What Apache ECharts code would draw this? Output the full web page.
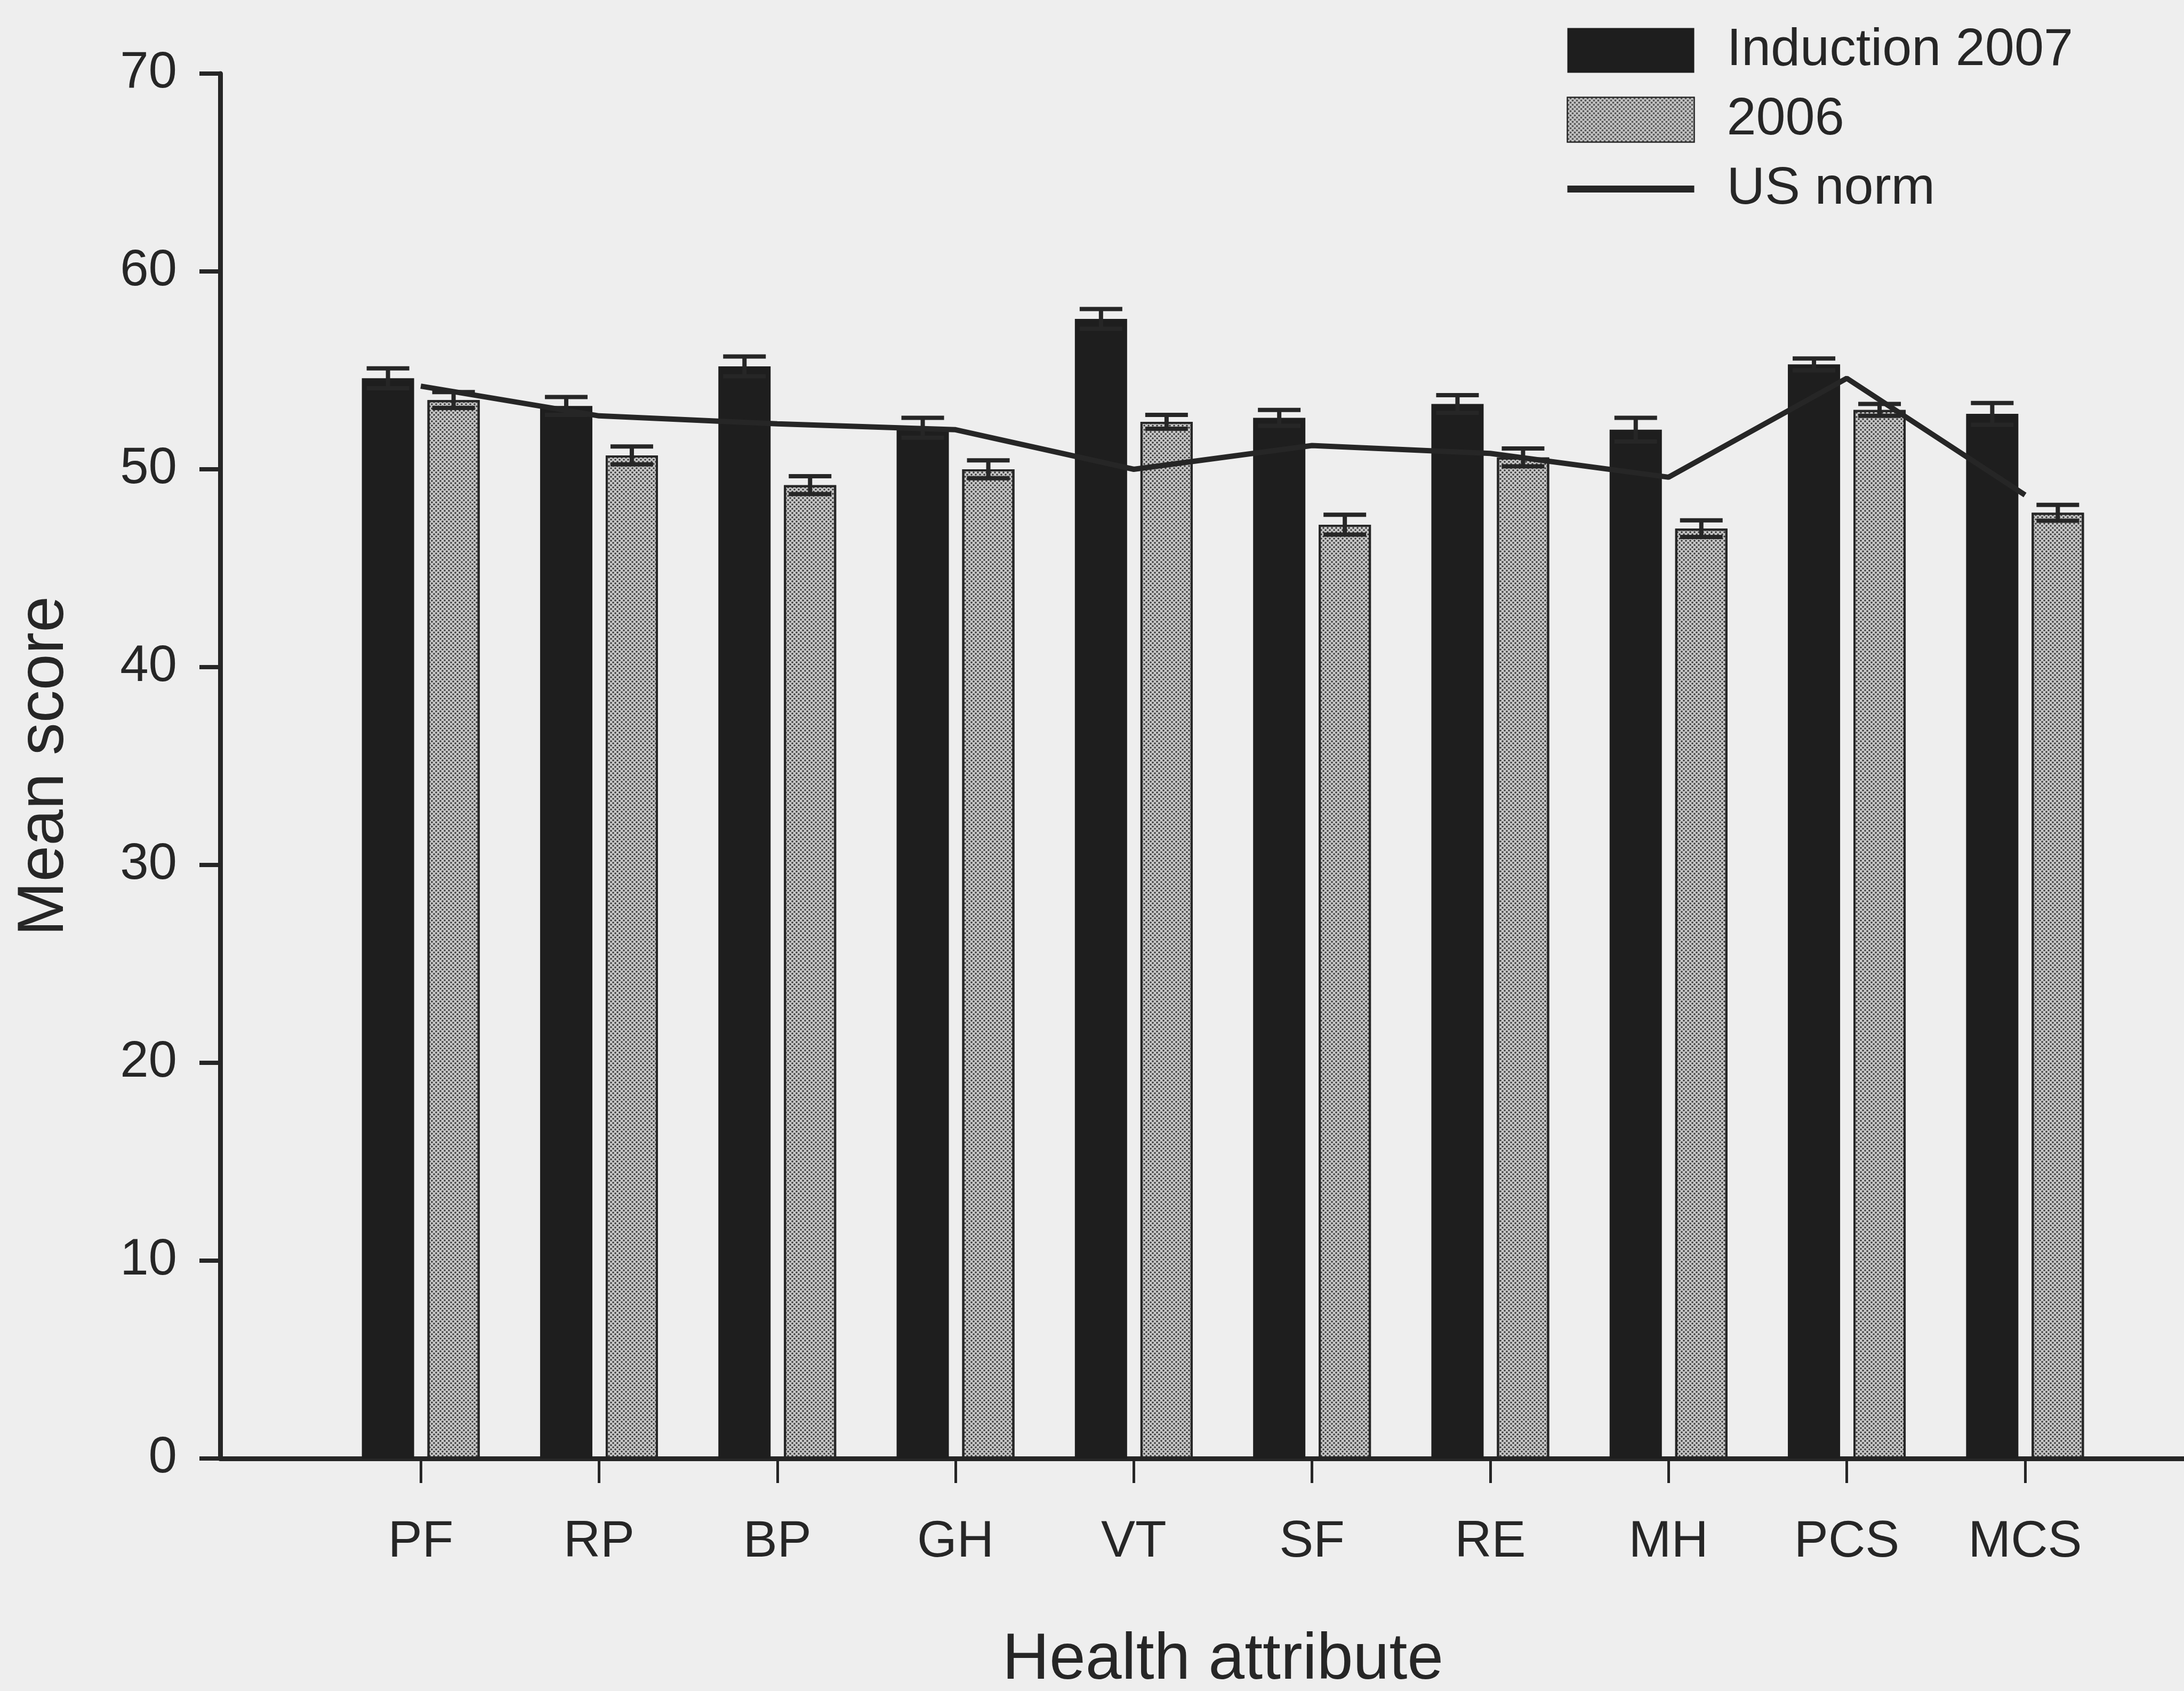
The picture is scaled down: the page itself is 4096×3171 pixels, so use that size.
<!DOCTYPE html>
<html>
<head>
<meta charset="utf-8">
<script src="https://cdn.jsdelivr.net/npm/echarts@6/dist/echarts.min.js"></script>
<style>
html,body{margin:0;padding:0;background:#eeeeee;}
#chart{width:4096px;height:3171px;}
</style>
</head>
<body>
<div id="chart"></div>
<script>
// ---- data ----
const categories = ['PF', 'RP', 'BP', 'GH', 'VT', 'SF', 'RE', 'MH', 'PCS', 'MCS'];
const induction2007 = [54.6, 53.2, 55.2, 52.1, 57.6, 52.6, 53.3, 52.0, 55.3, 52.8];
const induction2007Err = [0.5, 0.45, 0.5, 0.5, 0.5, 0.4, 0.45, 0.6, 0.3, 0.55];
const year2006 = [53.5, 50.7, 49.2, 50.0, 52.4, 47.2, 50.6, 47.0, 53.0, 47.8];
const year2006Err = [0.4, 0.45, 0.45, 0.45, 0.35, 0.5, 0.45, 0.42, 0.3, 0.4];
const usNorm = [54.2, 52.7, 52.3, 52.0, 50.0, 51.2, 50.8, 49.6, 54.6, 48.7];
const yMin = 0, yMax = 70, yInterval = 10;
const seriesNames = ['Induction 2007', '2006', 'US norm'];
const xTitle = 'Health attribute';
const yTitle = 'Mean score';

// ---- style constants ----
const FONT = 'Liberation Sans, Arial, Helvetica, sans-serif';
const INK = '#262626';
const BAR_W = 98;
const BAR_GAP_PX = 25;
const OFFSET = (BAR_W + BAR_GAP_PX) / 2;
const CAP_W = 80;

function errData(vals, errs) {
  return vals.map((v, i) => [i, v, errs[i]]);
}
function errRender(offset) {
  return function (params, api) {
    const x = api.value(0), v = api.value(1), e = api.value(2);
    const top = api.coord([x, v + e]);
    const bot = api.coord([x, v - e]);
    const cx = top[0] + offset;
    const st = { stroke: INK, lineWidth: 8 };
    return {
      type: 'group',
      children: [
        { type: 'line', shape: { x1: cx, y1: top[1], x2: cx, y2: bot[1] }, style: st },
        { type: 'line', shape: { x1: cx - CAP_W / 2, y1: top[1], x2: cx + CAP_W / 2, y2: top[1] }, style: st },
        { type: 'line', shape: { x1: cx - CAP_W / 2, y1: bot[1], x2: cx + CAP_W / 2, y2: bot[1] }, style: st }
      ]
    };
  };
}

const chart = echarts.init(document.getElementById('chart'), null, { renderer: 'canvas' });
const grayDecal = {
  symbol: 'circle',
  symbolSize: 0.9,
  color: 'rgba(40,40,40,0.9)',
  dashArrayX: [[4, 4], [0, 4, 4, 0]],
  dashArrayY: [4, 0]
};

chart.setOption({
  backgroundColor: '#eeeeee',
  animation: false,
  textStyle: { fontFamily: FONT, color: INK },
  legend: {
    orient: 'vertical',
    left: 2928,
    top: 40,
    itemWidth: 238,
    itemHeight: 84,
    itemGap: 31,
    textStyle: { fontSize: 99, color: INK, fontFamily: FONT, padding: [0, 0, 0, 56] },
    data: [
      { name: seriesNames[0], icon: 'rect' },
      { name: seriesNames[1], icon: 'rect' },
      { name: seriesNames[2], itemStyle: { opacity: 0 }, lineStyle: { width: 13, color: INK } }
    ]
  },
  grid: [
    { left: 413, right: 0, top: 138, bottom: 436, outerBoundsMode: 'none', containLabel: false },
    { left: 622, width: 3343, top: 138, bottom: 436, outerBoundsMode: 'none', containLabel: false }
  ],
  xAxis: [
    {
      gridIndex: 0, type: 'value', min: 0, max: 1,
      axisLine: { show: true, lineStyle: { color: INK, width: 9 } },
      axisTick: { show: false }, axisLabel: { show: false }, splitLine: { show: false }
    },
    {
      gridIndex: 1, type: 'category', data: categories, boundaryGap: true,
      axisLine: { show: false },
      axisTick: { show: true, alignWithLabel: true, length: 46, lineStyle: { color: INK, width: 5 } },
      axisLabel: { fontSize: 96, color: INK, fontFamily: FONT, margin: 110 },
      name: xTitle, nameLocation: 'middle', nameGap: 318,
      nameTextStyle: { fontSize: 122, color: INK, fontFamily: FONT }
    }
  ],
  yAxis: [
    {
      gridIndex: 0, type: 'value', min: yMin, max: yMax, interval: yInterval,
      axisLine: { show: true, lineStyle: { color: INK, width: 9 } },
      axisTick: { show: true, inside: false, length: 39, lineStyle: { color: INK, width: 8 } },
      axisLabel: { fontSize: 96, color: INK, fontFamily: FONT, margin: 81 },
      splitLine: { show: false },
      name: yTitle, nameLocation: 'middle', nameGap: 268, nameRotate: 90,
      nameTextStyle: { fontSize: 122, color: INK, fontFamily: FONT }
    },
    {
      gridIndex: 1, type: 'value', min: yMin, max: yMax, interval: yInterval, show: false
    }
  ],
  series: [
    {
      name: seriesNames[0], type: 'bar', xAxisIndex: 1, yAxisIndex: 1,
      data: induction2007, barWidth: BAR_W, barGap: (BAR_GAP_PX / BAR_W * 100) + '%',
      itemStyle: { color: '#1e1e1e' }, z: 2
    },
    {
      name: seriesNames[1], type: 'bar', xAxisIndex: 1, yAxisIndex: 1,
      data: year2006, barWidth: BAR_W,
      itemStyle: { color: '#c6c6c6', borderColor: '#262626', borderWidth: 4, decal: grayDecal }, z: 2
    },
    {
      name: seriesNames[2], type: 'line', xAxisIndex: 1, yAxisIndex: 1,
      data: usNorm, symbol: 'none', showSymbol: false,
      lineStyle: { color: INK, width: 10 }, itemStyle: { color: INK }, z: 4
    },
    {
      type: 'custom', xAxisIndex: 1, yAxisIndex: 1, z: 5,
      data: errData(induction2007, induction2007Err),
      renderItem: errRender(-OFFSET)
    },
    {
      type: 'custom', xAxisIndex: 1, yAxisIndex: 1, z: 5,
      data: errData(year2006, year2006Err),
      renderItem: errRender(OFFSET)
    }
  ]
});
</script>
</body>
</html>
